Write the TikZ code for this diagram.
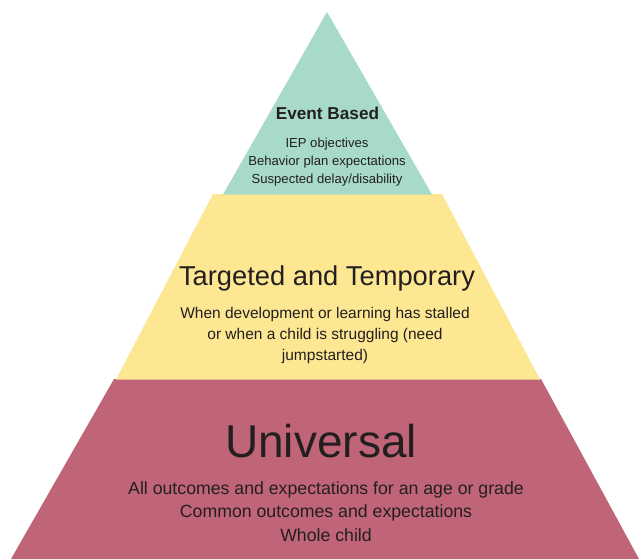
\documentclass[tikz,border=0pt]{standalone}
\usepackage{fontspec}
\setmainfont{Liberation Sans}
\definecolor{tgreen}{RGB}{168,218,200}
\definecolor{tyellow}{RGB}{253,231,146}
\definecolor{tred}{RGB}{192,100,120}
\definecolor{ttext}{RGB}{35,31,32}
\begin{document}
\begin{tikzpicture}[x=1pt,y=-1pt,
  txt/.style={anchor=base,inner sep=0pt,text=ttext},
  fs/.style={font=\fontsize{#1}{#1}\selectfont}]
\useasboundingbox (0,0) rectangle (639,559);
\fill[white] (0,0) rectangle (639,559);
% layers
\fill[tred] (114,379) -- (541,379) -- (639,559) -- (11,559) -- cycle;
\fill[tyellow] (213,194) -- (442,194) -- (540,379.5) -- (116,379.5) -- cycle;
\fill[tgreen] (327,12) -- (432,194.5) -- (223,194.5) -- cycle;
% top layer text
\node[txt,font=\bfseries\fontsize{17.2}{17.2}\selectfont] (eb) at (327.5,120) {Event Based};
\node[txt,fs=13.1] (eb1) at (327,147.5) {IEP objectives};
\node[txt,fs=13.1] (eb2) at (327,165.5) {Behavior plan expectations};
\node[txt,fs=13.1] (eb3) at (327,183.5) {Suspected delay/disability};
% middle layer text
\node[txt,fs=27.3] (tt) at (327,285.5) {Targeted and Temporary};
\node[txt,fs=15.5] (tt1) at (325,318.5) {When development or learning has stalled};
\node[txt,fs=15.5] (tt2) at (325,339.5) {or when a child is struggling (need};
\node[txt,fs=15.5] (tt3) at (325,360.5) {jumpstarted)};
% bottom layer text
\node[txt,fs=46] (un) at (321,457.5) {Universal};
\node[txt,fs=17.7] (un1) at (326,494) {All outcomes and expectations for an age or grade};
\node[txt,fs=17.7] (un2) at (326,517.5) {Common outcomes and expectations};
\node[txt,fs=17.7] (un3) at (326,541) {Whole child};
\end{tikzpicture}
\end{document}
